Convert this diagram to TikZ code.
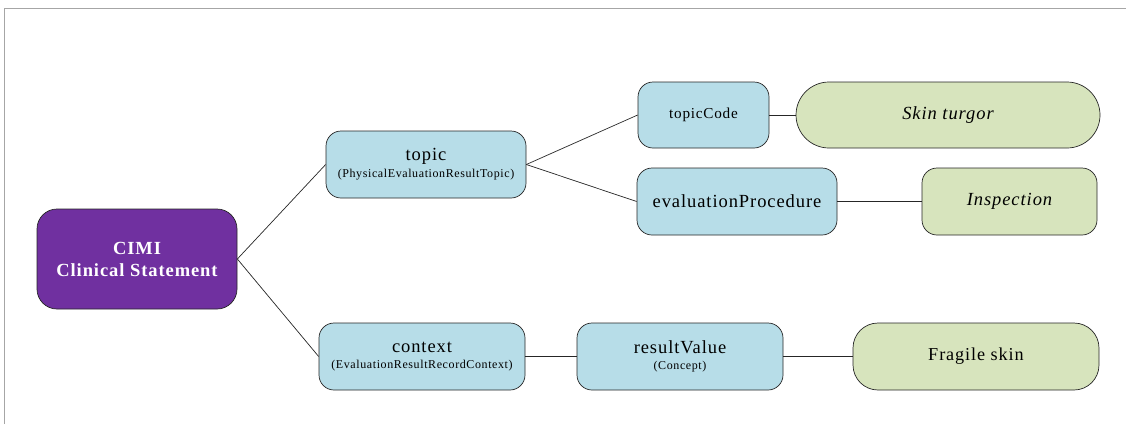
\documentclass[tikz,border=0pt]{standalone}
\usepackage{fontspec}
\setmainfont{Liberation Serif}[LetterSpace=5]
\definecolor{cimi}{HTML}{7030A0}
\definecolor{bluebox}{HTML}{B7DDE8}
\definecolor{greenbox}{HTML}{D7E4BD}
\begin{document}
\begin{tikzpicture}[x=1pt,y=-1pt,
  box/.style={draw=black!85, line width=0.7pt, inner sep=0pt, align=center, rounded corners=15pt},
  bbox/.style={box, fill=bluebox},
  gbox/.style={box, fill=greenbox},
  link/.style={draw=black!85, line width=0.7pt}
]
\useasboundingbox (0,0) rectangle (1126,424);
\draw[gray!70, line width=1pt] (4,424) -- (4,8.5) -- (1126,8.5);

\node[box, fill=cimi, rounded corners=20pt, minimum width=200pt, minimum height=100pt, text=white,
  font=\bfseries\fontsize{18.5}{22}\selectfont] (cimi) at (137,259) {CIMI\\Clinical Statement};

\node[bbox, minimum width=200pt, minimum height=67pt] (topic) at (426,164.5)
  {{\fontsize{18.5}{20}\selectfont topic}\\[4pt]{\fontsize{12}{13}\selectfont (PhysicalEvaluationResultTopic)}};
\node[bbox, minimum width=131pt, minimum height=66pt, font=\fontsize{15.2}{17}\selectfont] (code) at (703.5,115) {topicCode};
\node[gbox, rounded corners=33pt, minimum width=304pt, minimum height=66pt, font=\itshape\fontsize{18.5}{20}\selectfont] (turgor) at (948,115) {Skin turgor};
\node[bbox, minimum width=200pt, minimum height=67pt, font=\fontsize{18.5}{20}\selectfont] (proc) at (737,201.5) {evaluationProcedure};
\node[gbox, minimum width=175pt, minimum height=67pt, font=\itshape\fontsize{18.5}{20}\selectfont] (insp) at (1009.5,201.5) {Inspection};

\node[bbox, minimum width=206pt, minimum height=67pt] (context) at (422,356.5)
  {{\fontsize{18.5}{20}\selectfont context}\\[4pt]{\fontsize{12}{13}\selectfont (EvaluationResultRecordContext)}};
\node[bbox, minimum width=206pt, minimum height=67pt] (value) at (680,356.5)
  {{\fontsize{18.5}{20}\selectfont resultValue}\\[4pt]{\fontsize{12}{13}\selectfont (Concept)}};
\node[gbox, rounded corners=25pt, minimum width=246pt, minimum height=67pt, font=\fontsize{18.2}{20}\selectfont] (fragile) at (976,356.5) {Fragile skin};

\draw[link] (cimi.east) -- (topic.west);
\draw[link] (cimi.east) -- (context.west);
\draw[link] (topic.east) -- (code.west);
\draw[link] (topic.east) -- (proc.west);
\draw[link] (code.east) -- (turgor.west);
\draw[link] (proc.east) -- (insp.west);
\draw[link] (context.east) -- (value.west);
\draw[link] (value.east) -- (fragile.west);
\end{tikzpicture}
\end{document}
